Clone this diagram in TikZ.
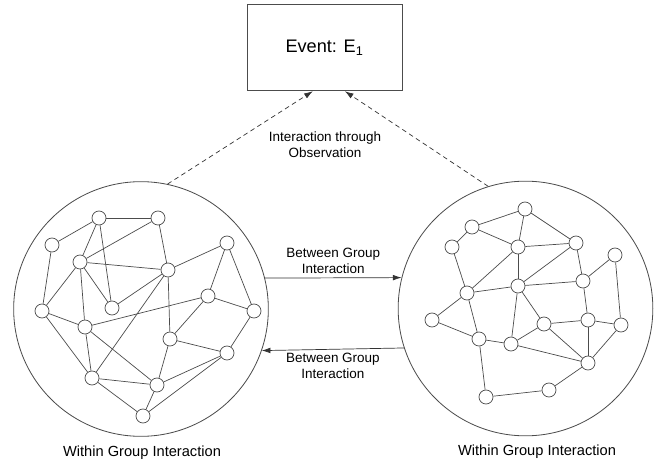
\documentclass[tikz,border=0pt]{standalone}
\usepackage{fontspec}
\setmainfont{Liberation Sans}
\usetikzlibrary{arrows.meta, positioning}

\begin{document}
\begin{tikzpicture}[
  x=0.3mm, y=-0.3mm,
  vertex/.style={circle, draw=black!70, line width=0.6pt, minimum size=4.2mm, inner sep=0pt},
  edge/.style={draw=black!70, line width=0.6pt},
  group/.style={circle, draw=black!70, line width=0.7pt, minimum size=76.4mm, inner sep=0pt},
  flow/.style={draw=black!80, line width=0.6pt, -{Latex[length=2.6mm, width=1.7mm]}},
  observe/.style={flow, dash pattern=on 4pt off 3pt},
  lbl/.style={font=\fontsize{11.5}{13.5}\selectfont, align=center}
]
  \useasboundingbox (0,0) rectangle (665,466);

  % The event and the two groups
  \node[draw=black!70, line width=0.7pt, minimum width=46.5mm, minimum height=26mm,
        font=\fontsize{15.5}{18}\selectfont] (event) at (324.5,47.5) {Event: E\textsubscript{1}};
  \node[group] (grpA) at (141,309) {};
  \node[group] (grpB) at (525.5,308.5) {};

  % Group A members
  \node[vertex] (a1) at (99,218) {};
  \node[vertex] (a2) at (158,218) {};
  \node[vertex] (a3) at (52,245) {};
  \node[vertex] (a4) at (80,262) {};
  \node[vertex] (a5) at (227,243) {};
  \node[vertex] (a6) at (168,270) {};
  \node[vertex] (a7) at (42,311) {};
  \node[vertex] (a8) at (112,308) {};
  \node[vertex] (a9) at (208,296) {};
  \node[vertex] (a10) at (254,311) {};
  \node[vertex] (a11) at (85,327) {};
  \node[vertex] (a12) at (170,339) {};
  \node[vertex] (a13) at (227,353) {};
  \node[vertex] (a14) at (92,378) {};
  \node[vertex] (a15) at (157,385) {};
  \node[vertex] (a16) at (143,416) {};

  % Group B members
  \node[vertex] (b1) at (525,209) {};
  \node[vertex] (b2) at (472,227) {};
  \node[vertex] (b3) at (452,247) {};
  \node[vertex] (b4) at (518,247) {};
  \node[vertex] (b5) at (576,243) {};
  \node[vertex] (b6) at (615,255) {};
  \node[vertex] (b7) at (583,281) {};
  \node[vertex] (b8) at (518,286) {};
  \node[vertex] (b9) at (467,293) {};
  \node[vertex] (b10) at (432,320) {};
  \node[vertex] (b11) at (479,339) {};
  \node[vertex] (b12) at (511,344) {};
  \node[vertex] (b13) at (544,324) {};
  \node[vertex] (b14) at (588,320) {};
  \node[vertex] (b15) at (621,325) {};
  \node[vertex] (b16) at (588,363) {};
  \node[vertex] (b17) at (549,390) {};
  \node[vertex] (b18) at (486,397) {};

  % Links inside group A
  \foreach \u/\v in {a1/a2, a1/a3, a1/a4, a1/a8, a2/a4, a2/a6, a3/a7,
                     a4/a6, a4/a7, a4/a8, a4/a11, a5/a6, a5/a9, a5/a10,
                     a6/a8, a6/a12, a6/a14, a7/a11, a7/a14, a9/a10, a9/a11,
                     a9/a12, a10/a13, a11/a14, a11/a15, a12/a13, a12/a15,
                     a13/a15, a13/a16, a14/a15, a14/a16, a15/a16}
    \draw[edge] (\u) -- (\v);

  % Links inside group B
  \foreach \u/\v in {b1/b2, b1/b4, b1/b5, b2/b3, b2/b4, b3/b9, b4/b5, b4/b8,
                     b4/b9, b5/b7, b5/b8, b6/b7, b6/b15, b7/b8, b7/b14, b8/b9,
                     b8/b12, b8/b13, b9/b10, b9/b11, b10/b11, b11/b12, b11/b18,
                     b12/b13, b12/b16, b13/b14, b13/b16, b14/b15, b14/b16,
                     b15/b16, b16/b17, b17/b18}
    \draw[edge] (\u) -- (\v);

  % Between the groups
  \draw[flow] (grpA.14.4) -- node[lbl, above] {Between Group\\Interaction} (grpB.166.2);
  \draw[flow] (grpB.198.4) -- node[lbl, below] {Between Group\\Interaction} (grpA.341.8);

  % Towards the event
  \draw[observe] (grpA.78) -- (event.255);
  \draw[observe] (grpB.107) -- (event.295);
  \node[lbl] (obs) at (325,145) {Interaction through\\Observation};

  % Captions
  \node[lbl, font=\fontsize{12.5}{15}\selectfont] (capA) at (142,453) {Within Group Interaction};
  \node[lbl, font=\fontsize{12.5}{15}\selectfont] (capB) at (537,452) {Within Group Interaction};
\end{tikzpicture}
\end{document}
